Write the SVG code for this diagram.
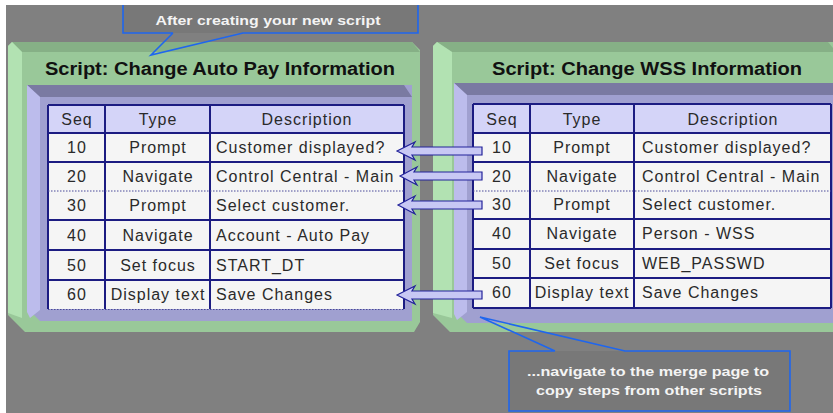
<svg xmlns="http://www.w3.org/2000/svg" width="833" height="413" viewBox="0 0 833 413">
<style>
.bg{fill:#808080}
.gface{fill:#99c899}
.gtop{fill:#86b086}
.gleft{fill:#b2e2b2}
.pface{fill:#a0a0d0}
.ptop{fill:#7a7aa2}
.pleft{fill:#bcbcec}
.hdr{fill:#d4d4f8}
.body{fill:#f5f5f5}
.grid{stroke:#1c1c82;stroke-width:2;fill:none}
.dot{stroke:#4a4a9a;stroke-width:1;stroke-dasharray:1.5 1.5;fill:none}
.title{font-family:"Liberation Sans",Arial,sans-serif;font-weight:bold;font-size:18px;fill:#111}
.cell{font-family:"Liberation Sans",Arial,sans-serif;font-size:16px;letter-spacing:1px;fill:#2a2a2a}
.mid{text-anchor:middle}
.call{fill:#787878;stroke:none}
.cline{stroke:#1f66ee;stroke-width:1.6;fill:none}
.ctext{font-family:"Liberation Sans",Arial,sans-serif;font-weight:bold;fill:#f4f4f4;text-anchor:middle}
.arrow{fill:#c8c8f4;stroke:#22229a;stroke-width:1.2;stroke-linejoin:miter}
</style>
<rect x="0" y="0" width="833" height="413" fill="#ffffff"/>
<rect class="bg" x="6" y="5" width="827" height="408"/>

<g id="panel-left">
<polygon class="gface" points="8,46 12,42 412,42 420,50 420,322 414,332 25,332 8,315"/>
<polygon class="gtop" points="12,42 412,42 420,52 22,52"/>
<polygon class="gleft" points="8,46 12,42 22,52 22,318 8,313"/>
<polygon class="pface" points="27,85 412,85 412,321 40,321 27,308"/>
<polygon class="ptop" points="27,85 404,85 412,97 40,97"/>
<polygon class="pleft" points="27,85 40,97 40,310 30,318 27,312"/>
<text class="title" x="220" y="75" text-anchor="middle" textLength="350" lengthAdjust="spacingAndGlyphs">Script: Change Auto Pay Information</text>
<rect class="hdr" x="48" y="105" width="356" height="28"/>
<rect class="body" x="48" y="133" width="356" height="176"/>
<path class="grid" d="M48,105H404M48,133H404M48,162H404M48,220H404M48,250H404M48,280H404M48,105V309M105,105V309M210,105V309M404,105V309"/>
<path class="dot" d="M48,191H404M48,309.5H404"/>
<g class="cell">
<text class="mid" x="77" y="125">Seq</text>
<text class="mid" x="158" y="125">Type</text>
<text class="mid" x="307" y="125">Description</text>
<text class="mid" x="77" y="153">10</text><text class="mid" x="158" y="153">Prompt</text><text x="216" y="153">Customer displayed?</text>
<text class="mid" x="77" y="182">20</text><text class="mid" x="158" y="182">Navigate</text><text x="216" y="182">Control Central - Main</text>
<text class="mid" x="77" y="211">30</text><text class="mid" x="158" y="211">Prompt</text><text x="216" y="211">Select customer.</text>
<text class="mid" x="77" y="241">40</text><text class="mid" x="158" y="241">Navigate</text><text x="216" y="241">Account - Auto Pay</text>
<text class="mid" x="77" y="271">50</text><text class="mid" x="158" y="271">Set focus</text><text x="216" y="271">START_DT</text>
<text class="mid" x="77" y="300">60</text><text class="mid" x="158" y="300">Display text</text><text x="216" y="300">Save Changes</text>
</g>
</g>

<g id="panel-right">
<polygon class="gface" points="433,46 437,42 833,42 833,332 450,332 433,315"/>
<polygon class="gtop" points="437,42 828,42 833,48 833,52 452,52"/>
<polygon class="gleft" points="433,46 437,42 452,52 452,318 433,313"/>
<polygon class="pface" points="454,83 833,83 833,323 467,323 454,310"/>
<polygon class="ptop" points="454,83 833,83 833,95 467,95"/>
<polygon class="pleft" points="454,83 467,95 467,312 457,320 454,314"/>
<text class="title" x="647" y="75" text-anchor="middle" textLength="310" lengthAdjust="spacingAndGlyphs">Script: Change WSS Information</text>
<rect class="hdr" x="473" y="104" width="358" height="29"/>
<rect class="body" x="473" y="133" width="358" height="175"/>
<path class="grid" d="M473,104H831M473,133H831M473,162H831M473,219H831M473,249H831M473,278H831M473,308H831M473,104V308M530,104V308M634,104V308M831,104V308"/>
<path class="dot" d="M473,191H831"/>
<g class="cell">
<text class="mid" x="502" y="125">Seq</text>
<text class="mid" x="582" y="125">Type</text>
<text class="mid" x="733" y="125">Description</text>
<text class="mid" x="502" y="153">10</text><text class="mid" x="582" y="153">Prompt</text><text x="642" y="153">Customer displayed?</text>
<text class="mid" x="502" y="182">20</text><text class="mid" x="582" y="182">Navigate</text><text x="642" y="182">Control Central - Main</text>
<text class="mid" x="502" y="210">30</text><text class="mid" x="582" y="210">Prompt</text><text x="642" y="210">Select customer.</text>
<text class="mid" x="502" y="239">40</text><text class="mid" x="582" y="239">Navigate</text><text x="642" y="239">Person - WSS</text>
<text class="mid" x="502" y="269">50</text><text class="mid" x="582" y="269">Set focus</text><text x="642" y="269">WEB_PASSWD</text>
<text class="mid" x="502" y="298">60</text><text class="mid" x="582" y="298">Display text</text><text x="642" y="298">Save Changes</text>
</g>
</g>

<g id="connectors">
<polygon class="arrow" points="397,151 415,142 412,147 482,147 482,155 412,155 415,160"/>
<polygon class="arrow" points="400,176 417,167 414,172 482,172 482,180 414,180 417,185"/>
<polygon class="arrow" points="398,205 415,196 412,201 482,201 482,209 412,209 415,214"/>
<polygon class="arrow" points="397,295 415,286 412,291 482,291 482,299 412,299 415,304"/>
</g>

<g id="callout-top">
<rect class="call" x="123" y="3" width="295" height="30"/>
<path class="cline" d="M173,33H123V3M418,3V33H243L151,55L173,33"/>
<text class="ctext" x="268" y="25" font-size="13.5" textLength="225" lengthAdjust="spacingAndGlyphs">After creating your new script</text>
</g>

<g id="callout-bottom">
<rect class="call" x="509" y="351" width="281" height="60"/>
<path class="cline" d="M555,351H509V411H790V351H625L480,317L555,351"/>
<text class="ctext" x="648" y="376" font-size="13" textLength="242" lengthAdjust="spacingAndGlyphs">...navigate to the merge page to</text>
<text class="ctext" x="649" y="395" font-size="13" textLength="226" lengthAdjust="spacingAndGlyphs">copy steps from other scripts</text>
</g>

<rect x="0" y="0" width="833" height="5" fill="#ffffff"/>
<rect x="0" y="0" width="6" height="413" fill="#ffffff"/>
</svg>
